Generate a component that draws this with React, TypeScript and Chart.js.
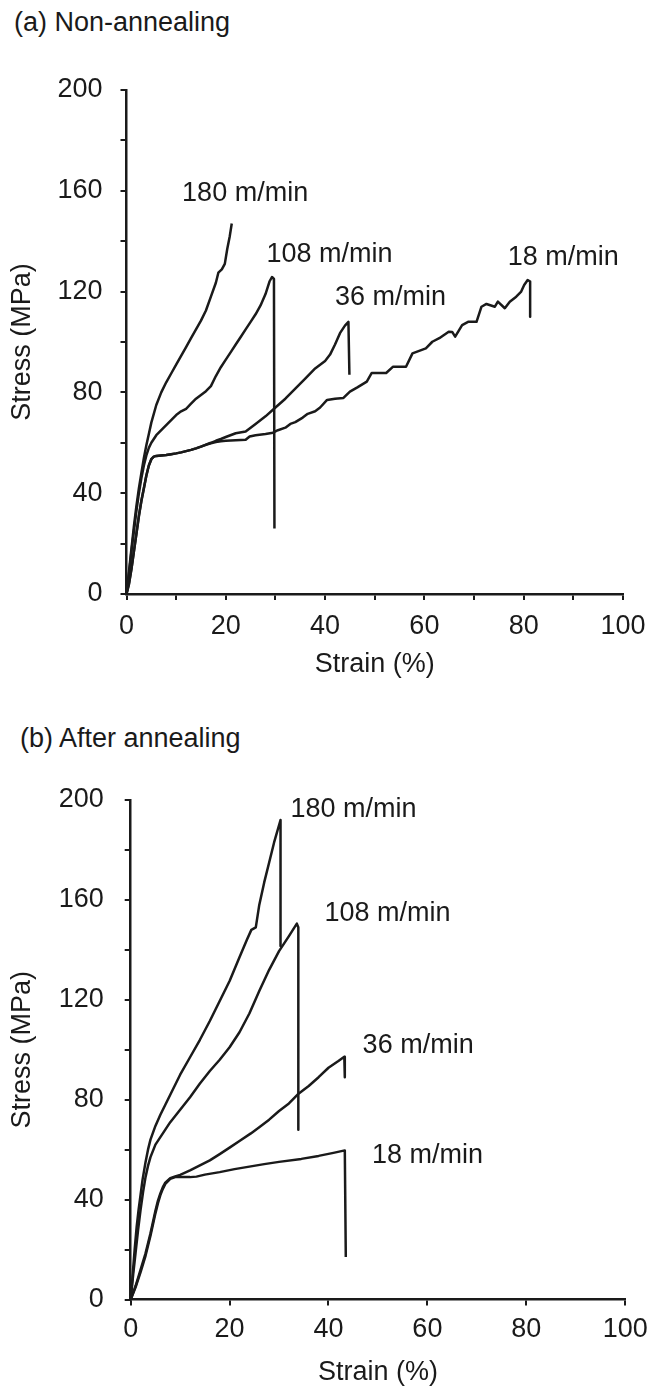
import React, { useEffect, useRef } from "react";
import { Chart, registerables } from "chart.js";

Chart.register(...registerables);

const FONT = "'Liberation Sans', Arial, Helvetica, sans-serif";
const INK = "#1a1a1a";
const FS = 27;

// ---------- Panel (a) Non-annealing ----------
const strainA180 = [0, 0.5, 1, 1.5, 2, 2.5, 3, 3.5, 4, 4.5, 5, 6, 7, 8, 9, 10, 11, 12, 13, 14, 15, 16, 17, 18, 18.5, 19.2, 19.8, 20.3, 20.8, 21.2];
const stressA180 = [0, 9, 18, 27, 35, 42, 48, 54, 59, 63.5, 68, 75, 80, 84, 87.5, 91, 94.5, 98, 101.5, 105, 108.5, 112.5, 118, 123.5, 127.5, 128.8, 131, 137, 142, 147];

const strainA108 = [0, 0.5, 1, 1.5, 2, 2.5, 3, 3.5, 4, 4.5, 5, 6, 7, 8, 9, 10, 11, 12, 13, 14, 15, 16, 17, 18, 19, 20, 21, 22, 23, 24, 25, 26, 27, 28, 28.8, 29.3, 29.7, 29.8];
const stressA108 = [0, 8, 17, 25, 33, 40, 46, 51, 55, 58, 60, 63, 65, 67, 69, 71, 72.5, 73.5, 75.5, 77.5, 79, 80.5, 82.5, 86.5, 90, 93, 96, 99, 102, 105, 108, 111, 114.5, 119, 124, 125.8, 125, 26];

const strainA36 = [0, 0.5, 1, 1.5, 2, 2.5, 3, 3.5, 4, 4.5, 5, 5.5, 6, 7, 8, 9, 10, 11, 12, 13, 14, 15, 16, 17, 18, 19, 20, 22, 24, 26, 28, 30, 32, 34, 36, 38, 40, 41, 42, 43, 44, 44.7, 44.9];
const stressA36 = [0, 4, 10, 17, 24, 31, 37, 42, 47, 51, 53.5, 54.5, 54.8, 55, 55.2, 55.5, 55.8, 56.2, 56.7, 57.2, 57.8, 58.5, 59.3, 60, 60.8, 61.5, 62.3, 63.8, 64.5, 67.5, 70.5, 74, 77.5, 81.5, 85.5, 89.5, 92.5, 95, 99, 103.5, 106.5, 108, 87];

const strainA18 = [0, 0.5, 1, 1.5, 2, 2.5, 3, 3.5, 4, 4.5, 5, 5.5, 6, 7, 8, 9, 10, 11, 12, 13, 14, 15, 16, 17, 18, 19, 20, 22, 24, 24.8, 26, 28, 29.5, 30.5, 32, 33, 34, 35.5, 36.5, 38, 39, 40.4, 42, 43.7, 45, 46.5, 48.4, 49.4, 52.3, 53.7, 56.3, 57.6, 60.3, 61.6, 63, 64.9, 65.6, 66.2, 67.6, 68.8, 70.5, 71.5, 72.5, 74.2, 74.8, 76.2, 77.2, 78.5, 79.5, 80.1, 80.8, 81.3, 81.3];
const stressA18 = [0, 4, 10, 17, 24, 31, 37, 42, 47, 51, 53.5, 54.5, 54.8, 55, 55.2, 55.5, 55.8, 56.2, 56.7, 57.2, 57.8, 58.5, 59.2, 59.8, 60.3, 60.6, 60.8, 61, 61.2, 62.5, 63, 63.5, 64, 65, 66, 67.5, 68.2, 70, 71.5, 72.5, 74, 77, 77.5, 77.8, 80.3, 82, 84.3, 87.7, 87.7, 90.2, 90.2, 95.5, 97.5, 100.1, 101.5, 104.1, 104, 102.1, 106.7, 108, 108, 114, 115.1, 114, 116, 113.4, 116, 118, 120, 122.6, 124.6, 124, 110];

const labelTextA = ["180 m/min", "108 m/min", "36 m/min", "18 m/min"];
const labelStrainA = [11.2, 28.2, 42.0, 76.8];
const labelStressA = [159.1, 134.9, 117.7, 133.5];

// ---------- Panel (b) After annealing ----------
const strainB180 = [0, 0.4, 0.8, 1.2, 1.6, 2, 2.4, 3, 3.5, 4, 5, 6, 7, 8, 10, 12, 14, 16, 18, 20, 22, 23.5, 24.4, 25.3, 26, 27, 28, 29, 30.3, 30.3];
const stressB180 = [0, 10, 20, 29, 36, 42, 48, 55, 60, 64, 69.5, 74, 78, 82, 90, 97, 104, 111.5, 119.5, 127.5, 137, 144, 148, 149, 158, 167, 175, 183, 192, 141.5];

const strainB108 = [0, 0.5, 1, 1.5, 2, 2.5, 3, 3.5, 4, 5, 6, 7, 8, 10, 12, 14, 16, 18, 20, 22, 24, 26, 28, 30, 32, 33.6, 33.9, 33.9];
const stressB108 = [0, 10, 19, 28, 36, 43, 49, 53.5, 57, 62, 65, 68, 71, 76, 81, 86.5, 91.5, 96, 101, 107, 114.5, 123.5, 132, 139.5, 145.5, 150.5, 149, 68];

const strainB36 = [0, 1, 2, 3, 3.5, 4, 4.5, 5, 5.5, 6, 6.5, 7, 8, 9, 10, 12, 14, 16, 18, 20, 22, 24.3, 26, 28, 30, 32, 34, 36, 38, 40, 42, 43.2, 43.3];
const stressB36 = [0, 5.5, 12, 18.5, 22.5, 26.5, 31, 35.5, 39.5, 42.5, 45, 46.8, 48.6, 49.3, 49.9, 51.7, 53.7, 55.7, 58.2, 60.8, 63.5, 66.5, 69, 72, 75.5, 78.5, 82.5, 85.5, 89, 92.8, 95.5, 97.2, 89];

const strainB18 = [0, 1, 2, 3, 3.5, 4, 4.5, 5, 5.5, 6, 6.5, 7, 8, 9, 10, 12, 13.3, 15, 18, 21, 24.3, 27, 30, 34.5, 38, 41, 43.3, 43.5];
const stressB18 = [0, 5, 11, 17.5, 21.5, 25.5, 30, 34.5, 38.5, 41.8, 44.3, 46.3, 48.3, 49, 49, 49, 49.2, 50, 51, 52.2, 53.3, 54.2, 55.1, 56.3, 57.5, 58.7, 59.7, 17];

const labelTextB = ["180 m/min", "108 m/min", "36 m/min", "18 m/min"];
const labelStrainB = [32.3, 39.2, 46.9, 48.8];
const labelStressB = [196, 154.4, 101.5, 57.5];

const xTickValues = [0, 20, 40, 60, 80, 100];
const yTickValues = [0, 40, 80, 120, 160, 200];

type Spec = {
  title: string;
  series: { strain: number[]; stress: number[] }[];
  labelText: string[];
  labelStrain: number[];
  labelStress: number[];
  xStep: number;
  canvasTop: number;
  canvasHeight: number;
  plotLeft: number;
  plotRight: number;
  plotTop: number;
  plotBottom: number;
  yLabelPad: number;
  xLabelPad: number;
  xTitleCenter: number;
  titleLeft: number;
  titleTop: number;
};

const specA: Spec = {
  title: "(a) Non-annealing",
  series: [
    { strain: strainA180, stress: stressA180 },
    { strain: strainA108, stress: stressA108 },
    { strain: strainA36, stress: stressA36 },
    { strain: strainA18, stress: stressA18 },
  ],
  labelText: labelTextA,
  labelStrain: labelStrainA,
  labelStress: labelStressA,
  xStep: 10,
  canvasTop: 0,
  canvasHeight: 700,
  plotLeft: 126.5,
  plotRight: 630,
  plotTop: 90,
  plotBottom: 594,
  yLabelPad: 18,
  xLabelPad: 10.5,
  xTitleCenter: 665,
  titleLeft: 14,
  titleTop: 6,
};

const specB: Spec = {
  title: "(b) After annealing",
  series: [
    { strain: strainB180, stress: stressB180 },
    { strain: strainB108, stress: stressB108 },
    { strain: strainB36, stress: stressB36 },
    { strain: strainB18, stress: stressB18 },
  ],
  labelText: labelTextB,
  labelStrain: labelStrainB,
  labelStress: labelStressB,
  xStep: 20,
  canvasTop: 700,
  canvasHeight: 692,
  plotLeft: 130.7,
  plotRight: 626.7,
  plotTop: 800,
  plotBottom: 1299.5,
  yLabelPad: 21,
  xLabelPad: 8.3,
  xTitleCenter: 1373,
  titleLeft: 20,
  titleTop: 722,
};

function Panel({ spec }: { spec: Spec }) {
  const ref = useRef<HTMLCanvasElement | null>(null);
  useEffect(() => {
    if (!ref.current) return;
    const s = spec;
    const lineH = FS * 1.2;
    const labelPlugin = {
      id: "curveLabels",
      afterDatasetsDraw(chart: any) {
        const { ctx, scales } = chart;
        ctx.save();
        ctx.font = `${FS}px ${FONT}`;
        ctx.fillStyle = INK;
        ctx.textAlign = "left";
        ctx.textBaseline = "middle";
        s.labelText.forEach((t, i) => {
          ctx.fillText(t, scales.x.getPixelForValue(s.labelStrain[i]), scales.y.getPixelForValue(s.labelStress[i]));
        });
        ctx.restore();
      },
    };
    const chart = new Chart(ref.current, {
      type: "line",
      data: {
        datasets: s.series.map((d) => ({
          data: d.strain.map((x, i) => ({ x, y: d.stress[i] })),
          borderColor: INK,
          borderWidth: 2.5,
          pointRadius: 0,
          tension: 0,
          fill: false,
          clip: false as any,
          borderJoinStyle: "round" as const,
        })),
      },
      options: {
        animation: false,
        responsive: false,
        maintainAspectRatio: false,
        events: [],
        layout: {
          padding: { left: 0, right: 656 - s.plotRight, top: s.plotTop - s.canvasTop, bottom: 0 },
        },
        plugins: {
          legend: { display: false },
          tooltip: { enabled: false },
          title: { display: false },
        },
        scales: {
          x: {
            type: "linear",
            min: 0,
            max: 100,
            ticks: {
              stepSize: s.xStep,
              autoSkip: false,
              maxRotation: 0,
              padding: s.xLabelPad,
              color: INK,
              font: { family: FONT, size: FS },
              callback: (v: any) => (xTickValues.includes(Number(v)) ? String(v) : ""),
            },
            grid: { drawOnChartArea: false, drawTicks: true, tickLength: 6, color: INK, lineWidth: 2 },
            border: { display: true, color: INK, width: 2.5 },
            title: {
              display: true,
              text: "Strain (%)",
              color: INK,
              font: { family: FONT, size: FS },
              padding: { top: 0, bottom: s.canvasTop + s.canvasHeight - s.xTitleCenter - lineH / 2 },
            },
            afterFit: (sc: any) => {
              sc.height = s.canvasTop + s.canvasHeight - s.plotBottom;
            },
          },
          y: {
            type: "linear",
            min: 0,
            max: 200,
            ticks: {
              stepSize: 20,
              autoSkip: false,
              padding: s.yLabelPad,
              color: INK,
              font: { family: FONT, size: FS },
              callback: (v: any) => (yTickValues.includes(Number(v)) ? String(v) : ""),
            },
            grid: { drawOnChartArea: false, drawTicks: true, tickLength: 6, color: INK, lineWidth: 2 },
            border: { display: true, color: INK, width: 2.5 },
            title: {
              display: true,
              text: "Stress (MPa)",
              color: INK,
              font: { family: FONT, size: FS },
              padding: { top: 23 - lineH / 2, bottom: 0 },
            },
            afterFit: (sc: any) => {
              sc.width = s.plotLeft;
            },
          },
        },
      },
      plugins: [labelPlugin],
    });
    return () => chart.destroy();
  }, [spec]);

  return (
    <>
      <div
        style={{
          position: "absolute",
          left: spec.titleLeft,
          top: spec.titleTop,
          font: `${FS}px ${FONT}`,
          lineHeight: "32px",
          color: INK,
          whiteSpace: "nowrap",
        }}
      >
        {spec.title}
      </div>
      <canvas
        ref={ref}
        width={656}
        height={spec.canvasHeight}
        style={{ position: "absolute", left: 0, top: spec.canvasTop, width: 656, height: spec.canvasHeight, display: "block" }}
      />
    </>
  );
}

export default function App() {
  return (
    <div style={{ position: "absolute", left: 0, top: 0, width: 656, height: 1392, background: "#fff", overflow: "hidden" }}>
      <Panel spec={specA} />
      <Panel spec={specB} />
    </div>
  );
}
